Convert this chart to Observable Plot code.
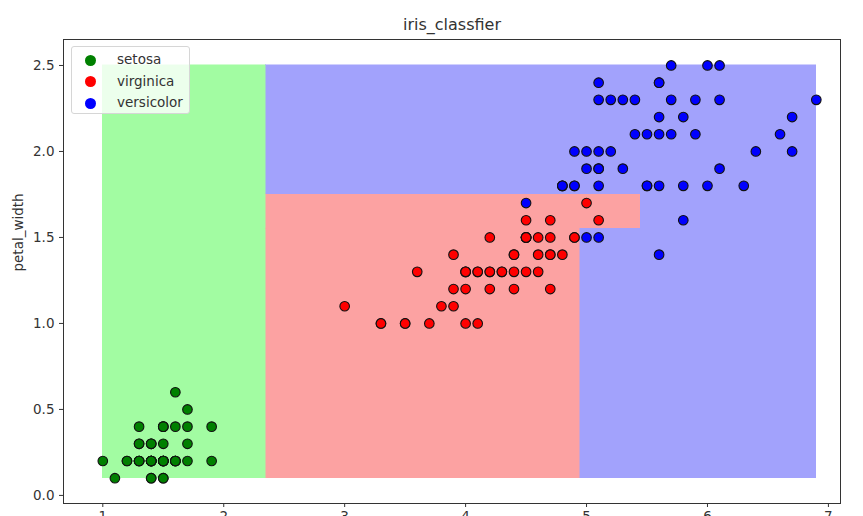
<!DOCTYPE html>
<html>
<head>
<meta charset="utf-8">
<script src="https://cdn.jsdelivr.net/npm/d3@7"></script>
<script src="https://cdn.jsdelivr.net/npm/@observablehq/plot@0.6"></script>
<style>
html, body { margin: 0; padding: 0; overflow: hidden; background: #fff; }
#wrap { position: relative; width: 863px; height: 516px; overflow: hidden; }
#legend { position: absolute; left: 71px; top: 46px; width: 119px; height: 68px; box-sizing: border-box;
  background: rgba(255,255,255,0.8); border: 1px solid #d6d6d6; border-radius: 3px;
  font-family: "DejaVu Sans", sans-serif; font-size: 13.5px; color: #333; }
.row { position: absolute; left: 0; height: 20px; display: flex; align-items: center; }
.sw { position: absolute; left: 13px; width: 11px; height: 11px; border-radius: 50%; }
.lb { position: absolute; left: 45px; white-space: nowrap; line-height: 20px; top: -1px; }
</style>
</head>
<body>
<div id="wrap"><div id="chart"></div><div id="legend"></div></div>
<script>
// ---- data ----
const title = "iris_classfier";
const yLabel = "petal_width";
const xTicks = [1, 2, 3, 4, 5, 6, 7];
const yTicks = [0.0, 0.5, 1.0, 1.5, 2.0, 2.5];

// legend labels as shown in the chart, with point colours
const classLabels = ["setosa", "virginica", "versicolor"];
const classColors = ["#008000", "#ff0000", "#0000ff"];
const regionColors = ["#a2fca2", "#fca2a2", "#a2a2fc"];

// decision regions (petal_length x1..x2, petal_width y1..y2, class index)
const regionX1 = [1.0, 2.35, 2.35, 4.95, 4.95, 5.45, 2.35];
const regionX2 = [2.35, 4.95, 5.45, 6.9, 5.45, 6.9, 6.9];
const regionY1 = [0.1, 0.1, 1.55, 0.1, 1.75, 1.55, 1.75];
const regionY2 = [2.5, 1.55, 1.75, 1.55, 1.75, 1.75, 2.5];
const regionCls = [0, 1, 1, 2, 2, 2, 2];

// class 0 (green)
const setosaLength = [1.4,1.4,1.3,1.5,1.4,1.7,1.4,1.5,1.4,1.5,1.5,1.6,1.4,1.1,1.2,1.5,1.3,1.4,1.7,1.5,1.7,1.5,1.0,1.7,1.9,1.6,1.6,1.5,1.4,1.6,1.6,1.5,1.5,1.4,1.5,1.2,1.3,1.4,1.3,1.5,1.3,1.3,1.3,1.6,1.9,1.4,1.6,1.4,1.5,1.4];
const setosaWidth  = [0.2,0.2,0.2,0.2,0.2,0.4,0.3,0.2,0.2,0.1,0.2,0.2,0.1,0.1,0.2,0.4,0.4,0.3,0.3,0.3,0.2,0.4,0.2,0.5,0.2,0.2,0.4,0.2,0.2,0.2,0.2,0.4,0.1,0.2,0.2,0.2,0.2,0.1,0.2,0.2,0.3,0.3,0.2,0.6,0.4,0.3,0.2,0.2,0.2,0.2];
// class 1 (red)
const redLength = [4.7,4.5,4.9,4.0,4.6,4.5,4.7,3.3,4.6,3.9,3.5,4.2,4.0,4.7,3.6,4.4,4.5,4.1,4.5,3.9,4.8,4.0,4.9,4.7,4.3,4.4,4.8,5.0,4.5,3.5,3.8,3.7,3.9,5.1,4.5,4.5,4.7,4.4,4.1,4.0,4.4,4.6,4.0,3.3,4.2,4.2,4.2,4.3,3.0,4.1];
const redWidth  = [1.4,1.5,1.5,1.3,1.5,1.3,1.6,1.0,1.3,1.4,1.0,1.5,1.0,1.4,1.3,1.4,1.5,1.0,1.5,1.1,1.8,1.3,1.5,1.2,1.3,1.4,1.4,1.7,1.5,1.0,1.1,1.0,1.2,1.6,1.5,1.6,1.5,1.3,1.3,1.3,1.2,1.4,1.2,1.0,1.3,1.2,1.3,1.3,1.1,1.3];
// class 2 (blue)
const blueLength = [6.0,5.1,5.9,5.6,5.8,6.6,4.5,6.3,5.8,6.1,5.1,5.3,5.5,5.0,5.1,5.3,5.5,6.7,6.9,5.0,5.7,4.9,6.7,4.9,5.7,6.0,4.8,4.9,5.6,5.8,6.1,6.4,5.6,5.1,5.6,6.1,5.6,5.5,4.8,5.4,5.6,5.1,5.1,5.9,5.7,5.2,5.0,5.2,5.4,5.1];
const blueWidth  = [2.5,1.9,2.1,1.8,2.2,2.1,1.7,1.8,1.8,2.5,2.0,1.9,2.1,2.0,2.4,2.3,1.8,2.2,2.3,1.5,2.3,2.0,2.0,1.8,2.1,1.8,1.8,1.8,2.1,1.6,1.9,2.0,2.2,1.5,1.4,2.3,2.4,1.8,1.8,2.1,2.4,2.3,1.9,2.3,2.5,2.3,1.9,2.0,2.3,1.8];

// ---- build tables ----
const regions = regionX1.map((x1, i) => ({x1, x2: regionX2[i], y1: regionY1[i], y2: regionY2[i], cls: regionCls[i]}));
const groups = [[setosaLength, setosaWidth], [redLength, redWidth], [blueLength, blueWidth]];
const points = groups.flatMap(([xs, ys], c) => xs.map((x, i) => ({x, y: ys[i], cls: c})));

const font = "DejaVu Sans, sans-serif";
const chart = Plot.plot({
  width: 863, height: 530,
  marginLeft: 63, marginRight: 23, marginTop: 39, marginBottom: 27,
  style: {fontFamily: font, fontSize: "13.5px", color: "#333", background: "white", overflow: "visible"},
  x: {domain: [0.675, 7.1], ticks: xTicks, tickFormat: d => String(d), tickSize: 4, tickPadding: 4, label: null},
  y: {domain: [-0.047, 2.651], ticks: yTicks, tickFormat: d3.format(".1f"), tickSize: 4, tickPadding: 5, label: null},
  marks: [
    Plot.rect(regions, {x1: "x1", x2: "x2", y1: "y1", y2: "y2", fill: d => regionColors[d.cls], shapeRendering: "crispEdges", stroke: d => regionColors[d.cls], strokeWidth: 0.5}),
    Plot.dot(points, {x: "x", y: "y", r: 4.8, fill: d => classColors[d.cls], stroke: "#111", strokeWidth: 1.1, fillOpacity: 1}),
    Plot.frame({stroke: "#333", strokeWidth: 1}),
    Plot.text([title], {frameAnchor: "top", dy: -15, lineAnchor: "middle", fontSize: 16, fill: "#333"}),
    Plot.text([yLabel], {frameAnchor: "left", dx: -45, rotate: -90, fontSize: 13.5, fill: "#333"})
  ]
});
document.getElementById("chart").appendChild(chart);

const legend = document.getElementById("legend");
classLabels.forEach((lab, i) => {
  const row = document.createElement("div");
  row.className = "row";
  row.style.top = (3 + i * 21.5) + "px";
  row.innerHTML = `<span class="sw" style="background:${classColors[i]}"></span><span class="lb">${lab}</span>`;
  legend.appendChild(row);
});
</script>
</body>
</html>
